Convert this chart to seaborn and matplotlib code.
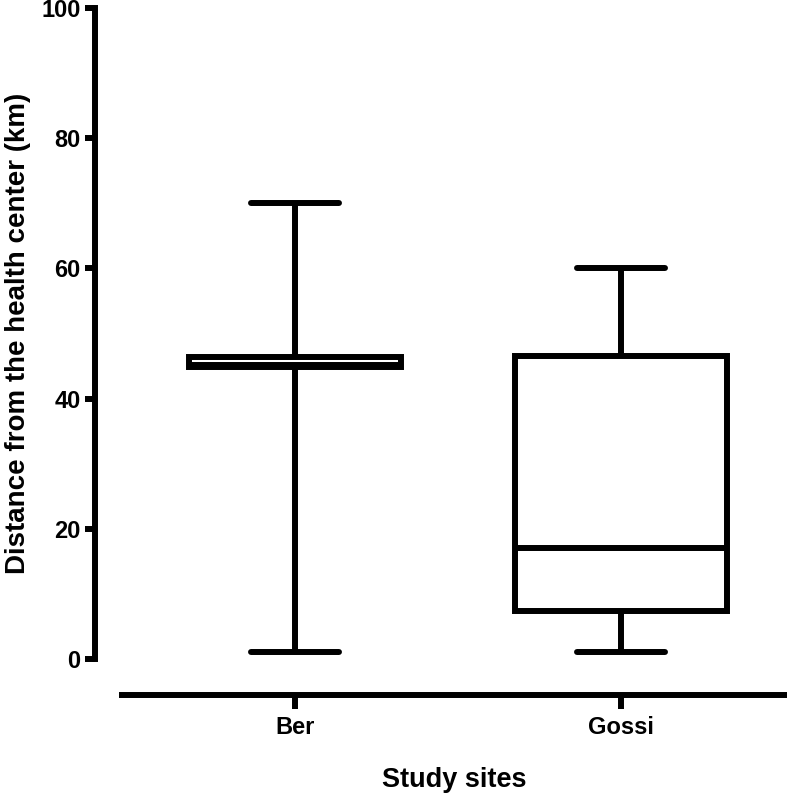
import matplotlib
matplotlib.use("Agg")
import matplotlib.pyplot as plt
import seaborn as sns
import pandas as pd

# five-number summaries: min, Q1, median, Q3, max
sites = ["Ber", "Gossi"]
ber_values = [1, 44.9, 45.2, 46.4, 70]
gossi_values = [1, 7.4, 17, 46.5, 60]
y_ticks = [0, 20, 40, 60, 80, 100]

df = pd.DataFrame({
    "site": ["Ber"] * len(ber_values) + ["Gossi"] * len(gossi_values),
    "distance": ber_values + gossi_values,
})

sns.set_style("ticks")
plt.rcParams["font.family"] = ["Liberation Sans", "DejaVu Sans"]
plt.rcParams["font.weight"] = "bold"
plt.rcParams["text.color"] = "black"
plt.rcParams["axes.labelcolor"] = "black"
plt.rcParams["xtick.color"] = "black"
plt.rcParams["ytick.color"] = "black"

lw = 4.3
fig = plt.figure(figsize=(7.87, 7.98), dpi=100)
ax = fig.add_axes([122 / 787, (798 - 659) / 798, (787 - 122) / 787, (659 - 8) / 798])

sns.boxplot(data=df, x="site", y="distance", order=sites, whis=(0, 100),
            width=0.65, color="white", linecolor="black", linewidth=lw,
            capwidths=0.27, ax=ax)

ax.set_ylim(0, 100)
ax.set_xlim(-0.531, 1.509)
ax.set_yticks(y_ticks)
sns.despine(ax=ax, offset={"left": 19.4, "bottom": 25.9})
for side in ["left", "bottom"]:
    ax.spines[side].set_linewidth(lw)
    ax.spines[side].set_color("black")
ax.tick_params(axis="both", width=lw, labelsize=17)
ax.tick_params(axis="y", length=7.5, pad=3)
ax.tick_params(axis="x", length=10, pad=5)

ax.set_xlabel("Study sites", fontsize=19.5, fontweight="bold", labelpad=20)
ax.set_ylabel("Distance from the health center (km)", fontsize=20,
              fontweight="bold", labelpad=7)

fig.savefig("out.png", dpi=100)
